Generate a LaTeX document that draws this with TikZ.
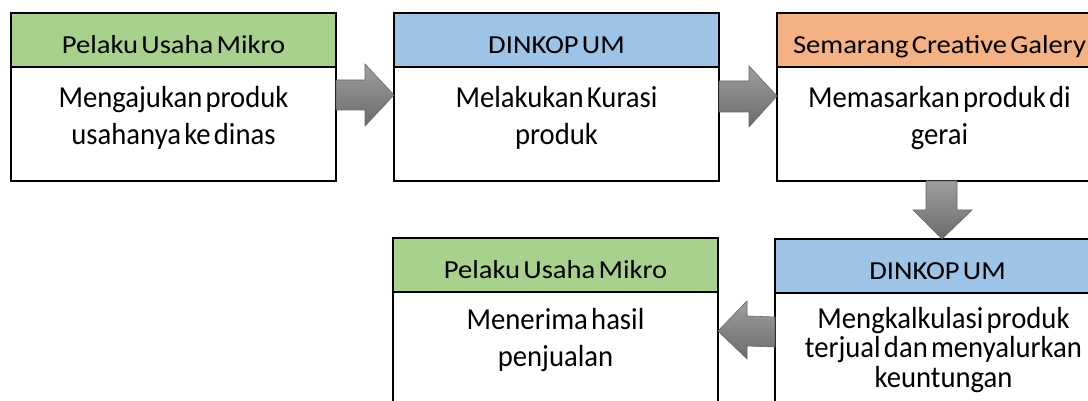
\documentclass[tikz,border=0pt]{standalone}
\usepackage{fontspec}
\setmainfont{Carlito}[WordSpace=0.5, FakeStretch=0.94]
\newfontfamily\headfont{Carlito}[WordSpace=0.5, FakeStretch=1.1]
\usetikzlibrary{positioning,calc}
\definecolor{hdrgreen}{HTML}{A9D18E}
\definecolor{hdrblue}{HTML}{9DC3E6}
\definecolor{hdrorange}{HTML}{F4B183}
\tikzset{
	head/.style={
			draw=black,
			line width=1.6pt,
			minimum width=325pt,
			minimum height=54pt,
			inner sep=0pt,
			outer sep=0pt,
			text height=27pt,
			text depth=0pt,
			anchor=north west,
			font=\headfont\fontsize{26}{30}\selectfont
		},
	body/.style={
			draw=black,
			fill=white,
			line width=1.6pt,
			minimum width=325pt,
			minimum height=114pt,
			inner sep=0pt,
			outer sep=0pt
		},
	bodytext/.style={
			align=center,
			inner sep=0pt,
			font=\fontsize{30.5}{37}\selectfont
		},
	fatarrow/.style={
			draw=black!60,
			line width=0.6pt,
			top color=black!38,
			bottom color=black!58
		}
}
\begin{document}
\begin{tikzpicture}[x=1pt, y=1pt]
	\useasboundingbox (0,0) rectangle (1088,-401);
	\clip (0,0) rectangle (1088,-401);
	% top row
	\node[head, fill=hdrgreen] (h1) at (11,-13) {Pelaku Usaha Mikro};
	\node[body, below=0pt of h1] (b1) {};
	\node[bodytext, below=19pt of b1.north] (t1) {Mengajukan produk\\usahanya ke dinas};
	\node[head, fill=hdrblue] (h2) at (394,-13) {DINKOP UM};
	\node[body, below=0pt of h2] (b2) {};
	\node[bodytext, below=19pt of b2.north] (t2) {Melakukan Kurasi\\produk};
	\node[head, fill=hdrorange] (h3) at (777,-13) {Semarang Creative Galery};
	\node[body, below=0pt of h3] (b3) {};
	\node[bodytext, below=19pt of b3.north] (t3) {Memasarkan produk di\\gerai};
	% bottom row
	\node[head, fill=hdrblue] (h4) at (775,-239) {DINKOP UM};
	\node[body, below=0pt of h4] (b4) {};
	\node[bodytext, font=\fontsize{30.5}{29.5}\selectfont, below=14pt of b4.north, xshift=6pt] (t4) {Mengkalkulasi produk\\terjual dan menyalurkan\\keuntungan};
	\node[head, fill=hdrgreen] (h5) at (393,-238) {Pelaku Usaha Mikro};
	\node[body, below=0pt of h5] (b5) {};
	\node[bodytext, below=16pt of b5.north] (t5) {Menerima hasil\\penjualan};
	% block arrows
	\draw[fatarrow] ($(b1.north east)+(0,-13)$) -- ($(b2.north west)+(-29,-13)$)
		-- ($(b2.north west)+(-29,3)$) -- ($(b2.north west)+(0,-28)$)
		-- ($(b2.north west)+(-29,-59)$) -- ($(b2.north west)+(-29,-43)$)
		-- ($(b1.north east)+(0,-43)$) -- cycle;
	\draw[fatarrow] ($(b2.north east)+(0,-14)$) -- ($(b3.north west)+(-28,-14)$)
		-- ($(b3.north west)+(-28,1)$) -- ($(b3.north west)+(0,-29)$)
		-- ($(b3.north west)+(-28,-60)$) -- ($(b3.north west)+(-28,-45)$)
		-- ($(b2.north east)+(0,-45)$) -- cycle;
	\draw[fatarrow] ($(b3.south west)+(149,0)$) -- ($(h4.north west)+(151,29)$)
		-- ($(h4.north west)+(138,29)$) -- ($(h4.north west)+(167,0)$)
		-- ($(h4.north west)+(197,29)$) -- ($(h4.north west)+(182,29)$)
		-- ($(b3.south west)+(180,0)$) -- cycle;
	\draw[fatarrow] ($(b4.north west)+(0,-24)$) -- ($(b5.north east)+(29,-24)$)
		-- ($(b5.north east)+(29,-9)$) -- ($(b5.north east)+(0,-39)$)
		-- ($(b5.north east)+(29,-67)$) -- ($(b5.north east)+(29,-54)$)
		-- ($(b4.north west)+(0,-54)$) -- cycle;
\end{tikzpicture}
\end{document}
